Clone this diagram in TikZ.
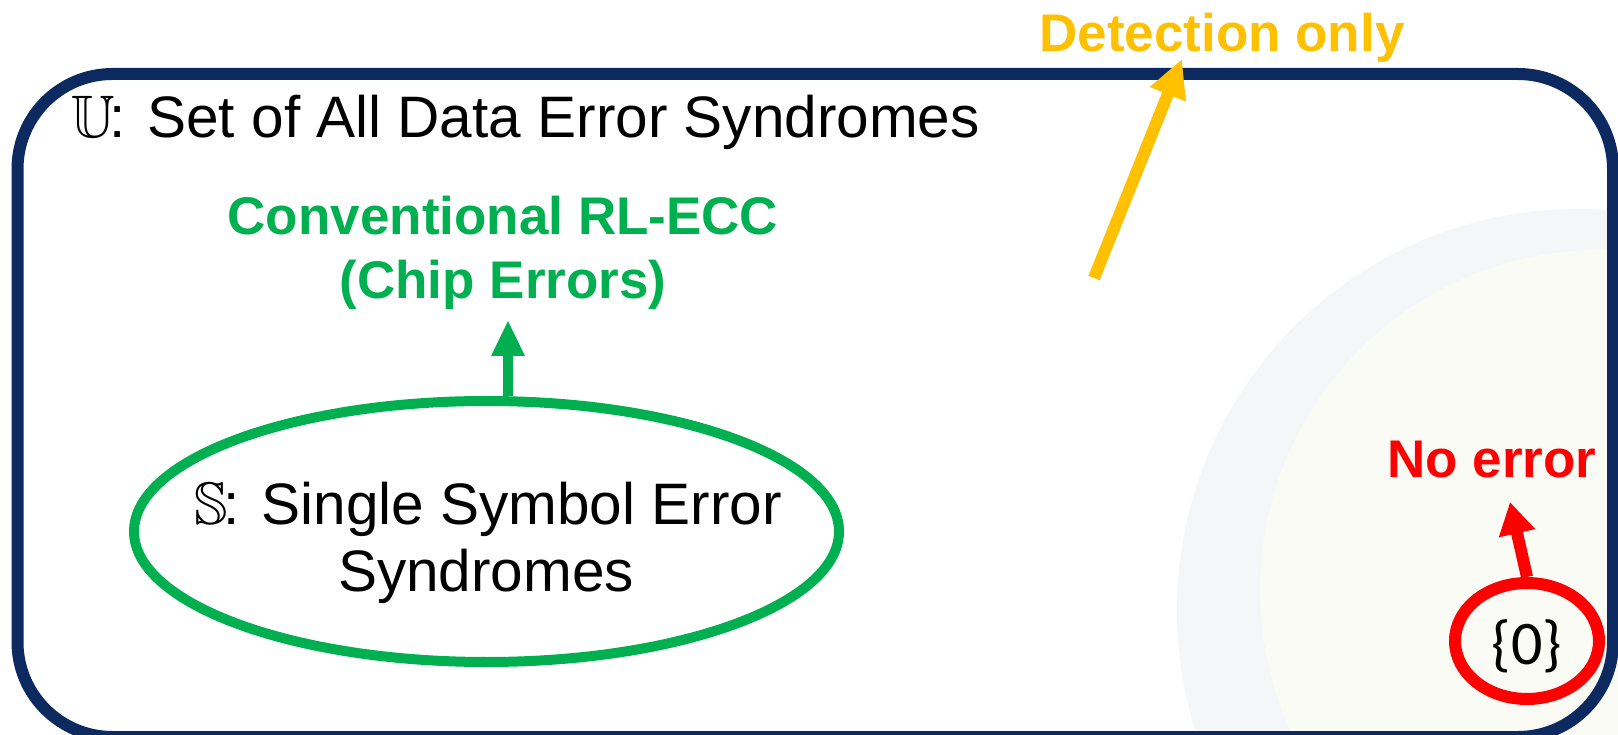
\documentclass[tikz,border=0pt]{standalone}
\usepackage{fontspec}
\usepackage{amssymb}
\usepackage{graphicx}
\setmainfont{Liberation Sans}
\newfontfamily\bracefont{Carlito}
\usetikzlibrary{arrows.meta,shapes.geometric}

\definecolor{framenavy}{RGB}{12,42,96}
\definecolor{ecgreen}{RGB}{0,176,80}
\definecolor{ecyellow}{RGB}{255,192,0}
\definecolor{ecred}{RGB}{255,0,0}
\definecolor{sealgray}{RGB}{245,246,248}
\definecolor{sealcream}{RGB}{250,251,245}

% double-struck set letters, scaled up from the 10pt blackboard font
\newcommand\dsU{\scalebox{6.0}{\fontsize{10}{12}\selectfont$\mathbb{U}$}\kern-5pt}
\newcommand\dsS{\scalebox{6.0}{\fontsize{10}{12}\selectfont$\mathbb{S}$}\kern-4pt}

\begin{document}
\begin{tikzpicture}[x=1pt,y=-1pt,
  bigtext/.style={font=\fontsize{58.5}{68}\selectfont, inner sep=0pt},
  boldtext/.style={font=\fontsize{53}{64}\selectfont\bfseries, inner sep=0pt},
  setring/.style={ellipse, draw, inner sep=0pt},
  greenarrow/.style={draw=ecgreen, line width=10pt, -{Triangle[length=36pt,width=31pt]}},
  yellowarrow/.style={draw=ecyellow, line width=12pt, -{Triangle[length=38pt,width=36pt]}},
  redarrow/.style={draw=ecred, line width=12pt, -{Triangle[length=32pt,width=35pt]}}
]
\useasboundingbox (0,0) rectangle (1618,735);
\fill[white] (0,0) rectangle (1618,735);

% faint seal in the background and the universe frame
\begin{scope}
  \clip (0,0) rectangle (1618,735);
  \fill[sealgray] (1578,610) circle[radius=401];
  \fill[sealcream] (1600,590) circle[radius=340];
  \draw[framenavy, line width=12pt, rounded corners=95pt] (17.5,74) rectangle (1613,737);
\end{scope}

% universe label
\node[bigtext, anchor=base west] (utitle) at (71,138) {\dsU: Set of All Data Error Syndromes};

% single symbol error set
\node[setring, draw=ecgreen, line width=10pt, minimum width=705pt, minimum height=261pt] (sset) at (486.5,531.5) {};
\node[bigtext, anchor=base] (stext1) at (488,524) {\dsS: Single Symbol Error};
\node[bigtext, anchor=base] (stext2) at (486,591) {Syndromes};

\node[boldtext, text=ecgreen, anchor=base] (conv1) at (503,235) {Conventional RL-ECC};
\node[boldtext, text=ecgreen, anchor=base] (conv2) at (503,299) {(Chip Errors)};
\coordinate (gtip) at (508,320);
\draw[greenarrow] (gtip |- sset.north) -- (gtip);

% detection-only region
\node[boldtext, text=ecyellow, anchor=base] (detect) at (1222,52) {Detection only};
\coordinate (ytail) at (1094,278);
\coordinate (ytip) at (1182,59);
\draw[yellowarrow] (ytail) -- (ytip);

% zero syndrome
\node[boldtext, text=ecred, anchor=base] (noerr) at (1492,477) {No error};
\node[setring, draw=ecred, line width=12pt, minimum width=144pt, minimum height=116pt] (zero) at (1527,641) {};
\node[font=\bracefont\fontsize{62}{74}\selectfont, anchor=base, inner sep=0pt] (zerotext) at (1527,664) {\{0\}};
\coordinate (rtip) at (1510,502);
\draw[redarrow] (zero.north) -- (rtip);
\end{tikzpicture}
\end{document}
